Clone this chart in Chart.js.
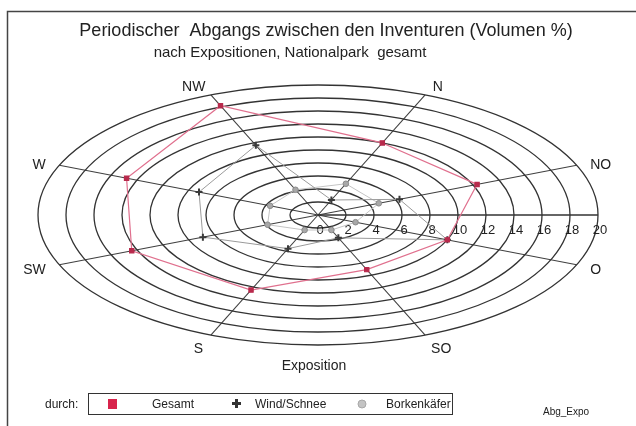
<!DOCTYPE html>
<html>
<head>
<meta charset="utf-8">
<script src="https://cdn.jsdelivr.net/npm/chart.js@4.4.0/dist/chart.umd.min.js"></script>
<style>
  html, body { margin: 0; padding: 0; background: #fff; overflow: hidden; }
  #wrap { width: 636px; height: 426px; }
</style>
</head>
<body>
<div id="wrap"><canvas id="expoChart" width="636" height="426"></canvas></div>
<script>
// Expositionen, clockwise starting at N
const directions = ['N', 'NO', 'O', 'SO', 'S', 'SW', 'W', 'NW'];
const tickLabels = ['0', '2', '4', '6', '8', '10', '12', '14', '16', '18', '20'];
const seriesNames = ['Gesamt', 'Wind/Schnee', 'Borkenkäfer'];

// Abgang in Volumen-%
const gesamt = [12.0, 12.3, 10.0, 9.1, 12.5, 14.4, 14.8, 18.2];
const windSchnee = [2.5, 6.3, 10.0, 3.8, 5.6, 8.9, 9.2, 11.6];
const borkenkaefer = [5.2, 4.7, 2.9, 2.5, 2.5, 3.9, 3.7, 4.2];

const FONT = '"Liberation Sans", Arial, sans-serif';
const TEXT = '#222';

// radial scale seen at a tilt: rings become ellipses
class EllipseScale extends Chart.RadialLinearScale {
  squash() {
    return this.height / this.width;
  }
  getPointPosition(index, distanceFromCenter, additionalAngle = 0) {
    const p = super.getPointPosition(index, distanceFromCenter, additionalAngle);
    return { x: p.x, y: this.yCenter + (p.y - this.yCenter) * this.squash(), angle: p.angle };
  }
  fit() {
    super.fit();
    this.drawingArea = Math.floor(this.width / 2);
  }
  drawGrid() {
    super.drawGrid(); // angle lines
    const ctx = this.ctx;
    const k = this.squash();
    ctx.save();
    ctx.strokeStyle = '#333';
    ctx.lineWidth = 1.3;
    this.ticks.forEach(t => {
      if (t.value === this.min) return;
      const r = this.getDistanceFromCenterForValue(t.value);
      ctx.beginPath();
      ctx.ellipse(this.xCenter, this.yCenter, r, r * k, 0, 0, Math.PI * 2);
      ctx.stroke();
    });
    // value axis, pointing right
    const rMax = this.getDistanceFromCenterForValue(this.max);
    ctx.beginPath();
    ctx.moveTo(this.xCenter, this.yCenter);
    ctx.lineTo(this.xCenter + rMax, this.yCenter);
    ctx.stroke();
    ctx.restore();
  }
  drawLabels() {
    const ctx = this.ctx;
    ctx.save();
    ctx.fillStyle = TEXT;
    ctx.textAlign = 'center';
    ctx.textBaseline = 'middle';
    ctx.font = '13px ' + FONT;
    this.ticks.forEach(t => {
      const r = this.getDistanceFromCenterForValue(t.value);
      ctx.fillText(t.label, this.xCenter + r + 2, this.yCenter + 15);
    });
    ctx.font = '14px ' + FONT;
    const rMax = this.getDistanceFromCenterForValue(this.max);
    this._pointLabels.forEach((lab, i) => {
      const end = this.getPointPosition(i, rMax);
      const dx = end.x - this.xCenter, dy = end.y - this.yCenter;
      const len = Math.hypot(dx, dy);
      const w = ctx.measureText(lab).width;
      ctx.fillText(lab, end.x + dx / len * (w / 2 + 14), end.y + dy / len * 15 + 3);
    });
    ctx.restore();
  }
}
EllipseScale.id = 'ellipse';
Chart.register(EllipseScale);

const decor = {
  id: 'decor',
  afterDraw(chart) {
    const ctx = chart.ctx;
    ctx.save();
    // frame
    ctx.strokeStyle = '#444';
    ctx.lineWidth = 1.5;
    ctx.beginPath();
    ctx.moveTo(7.5, 426);
    ctx.lineTo(7.5, 11.5);
    ctx.lineTo(636, 11.5);
    ctx.stroke();

    ctx.fillStyle = TEXT;
    ctx.textAlign = 'center';
    ctx.textBaseline = 'middle';
    ctx.font = '18px ' + FONT;
    ctx.fillText('Periodischer  Abgangs zwischen den Inventuren (Volumen %)', 326, 31);
    ctx.font = '15px ' + FONT;
    ctx.fillText('nach Expositionen, Nationalpark  gesamt', 290, 53);
    ctx.font = '14px ' + FONT;
    ctx.fillText('Exposition', 314, 366);

    // legend
    ctx.textAlign = 'left';
    ctx.font = '12px ' + FONT;
    ctx.fillText('durch:', 45, 405);
    ctx.lineWidth = 1;
    ctx.strokeStyle = '#333';
    ctx.strokeRect(88.5, 393.5, 364, 21);
    ctx.fillStyle = '#d8244c';
    ctx.fillRect(108, 399, 9, 10);
    ctx.fillStyle = '#333';
    ctx.fillRect(232, 402, 9, 3);
    ctx.fillRect(235, 399, 3, 9);
    ctx.fillStyle = '#c4c4c4';
    ctx.strokeStyle = '#a8a8a8';
    ctx.beginPath();
    ctx.arc(362, 404, 4, 0, Math.PI * 2);
    ctx.fill();
    ctx.stroke();
    ctx.fillStyle = TEXT;
    ctx.fillText(seriesNames[0], 152, 405);
    ctx.fillText(seriesNames[1], 255, 405);
    ctx.fillText(seriesNames[2], 386, 405);
    ctx.font = '10px ' + FONT;
    ctx.fillText('Abg_Expo', 543, 412);
    ctx.restore();
  }
};

new Chart(document.getElementById('expoChart'), {
  type: 'radar',
  data: {
    labels: directions,
    datasets: [
      {
        label: seriesNames[0],
        data: gesamt,
        fill: false,
        borderColor: '#e0708e',
        borderWidth: 1.2,
        pointStyle: 'rect',
        pointRadius: 3,
        pointBackgroundColor: '#b82a4c',
        pointBorderColor: '#b82a4c',
        clip: false
      },
      {
        label: seriesNames[1],
        data: windSchnee,
        fill: false,
        borderColor: '#9a9a9a',
        borderWidth: 1,
        pointStyle: 'cross',
        pointRadius: 3.5,
        pointBorderWidth: 2,
        pointBorderColor: '#3a3a3a',
        clip: false
      },
      {
        label: seriesNames[2],
        data: borkenkaefer,
        fill: false,
        borderColor: '#c4c4c4',
        borderWidth: 1,
        pointStyle: 'circle',
        pointRadius: 2.8,
        pointBackgroundColor: '#a8a8a8',
        pointBorderColor: '#8a8a8a',
        clip: false
      }
    ]
  },
  options: {
    responsive: false,
    animation: false,
    layout: { padding: { left: 38, right: 38, top: 85, bottom: 81 } },
    plugins: {
      legend: { display: false },
      tooltip: { enabled: false }
    },
    scales: {
      r: {
        type: 'ellipse',
        min: 0,
        max: 20,
        startAngle: 22.5,
        grid: { display: false },
        angleLines: { display: true, color: '#404040', lineWidth: 1.1 },
        pointLabels: { display: false },
        ticks: {
          display: false,
          stepSize: 2,
          callback: (v, i) => tickLabels[i]
        }
      }
    }
  },
  plugins: [decor]
});
</script>
</body>
</html>
